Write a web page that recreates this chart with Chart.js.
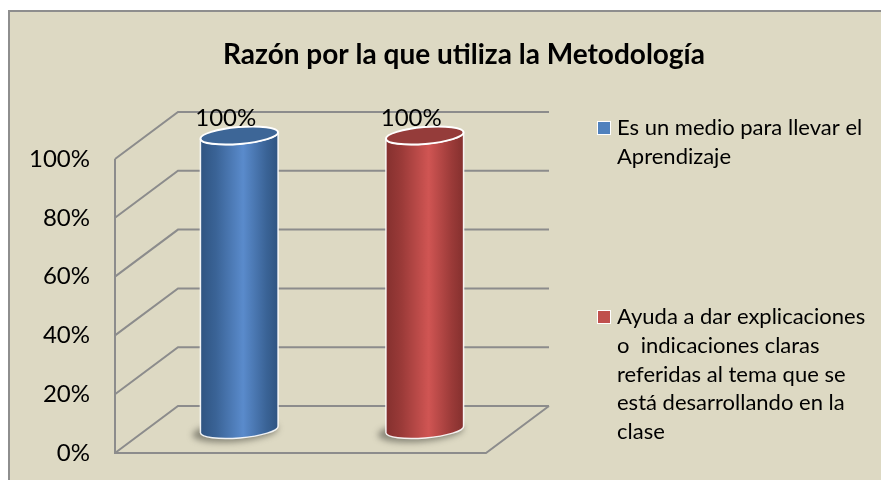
<!DOCTYPE html>
<html>
<head>
<meta charset="utf-8">
<script src="https://cdn.jsdelivr.net/npm/chart.js@4.4.0/dist/chart.umd.min.js"></script>
<style>
html, body { margin: 0; padding: 0; background: #fff; overflow: hidden; }
#box { position: absolute; left: 8px; top: 10px; border-left: 2px solid #8e8e8e; border-top: 2px solid #8e8e8e; background: #ddd9c3; }
#box canvas { display: block; }
</style>
</head>
<body>
<div id="box"><canvas id="chart" width="871" height="468"></canvas></div>
<script>
"use strict";

// chart data
var titleText = "Razón por la que utiliza la Metodología";
var categories = [
	"Es un medio para llevar el Aprendizaje",
	"Ayuda a dar explicaciones o  indicaciones claras referidas al tema que se está desarrollando en la clase"
];
var legendLines = [
	["Es un medio para llevar el", "Aprendizaje"],
	["Ayuda a dar explicaciones", "o  indicaciones claras", "referidas al tema que se", "está desarrollando en la", "clase"]
];
var values = [100, 100];
var yMin = 0;
var yMax = 100;
var yStep = 20;

// looks
var fontName = "Lato, 'Open Sans', sans-serif";
var gridColor = "#8c8c8c";
var depth = { dx: 63, dy: 47 };
var palette = [
	{ key: "#4f81bd", dark: "#2f5481", mid: "#5a8bcc", edge: "#3a6396", top: "#3d6697" },
	{ key: "#c0504d", dark: "#84302e", mid: "#d05553", edge: "#9a3a38", top: "#953c3a" }
];

// one dataset per category so the legend lists the categories
var datasets = categories.map(function(c, i) {
	return {
		label : c,
		data : categories.map(function(_, j) { return j === i ? values[i] : null; }),
		backgroundColor : palette[i].key,
		grouped : false,
		categoryPercentage : 1,
		barPercentage : 0.42
	};
});

var wallsPlugin = {
	id : "walls",
	afterLayout : function(chart) {
		// let the tick labels use the space left of the axis box
		chart.scales.y.left = 0;
	},
	beforeDatasetsDraw : function(chart) {
		var ctx = chart.ctx, a = chart.chartArea, y = chart.scales.y;
		ctx.save();
		ctx.strokeStyle = gridColor;
		ctx.lineWidth = 2;
		ctx.beginPath();
		for (var v = yMin; v <= yMax; v += yStep) {
			var py = y.getPixelForValue(v);
			// left wall diagonal + back wall line
			ctx.moveTo(a.left, py);
			ctx.lineTo(a.left + depth.dx, py - depth.dy);
			ctx.lineTo(a.right + depth.dx, py - depth.dy);
		}
		// front left edge
		ctx.moveTo(a.left, y.getPixelForValue(yMax));
		ctx.lineTo(a.left, a.bottom);
		// floor front + right edge
		ctx.lineTo(a.right, a.bottom);
		ctx.lineTo(a.right + depth.dx, a.bottom - depth.dy);
		ctx.stroke();
		ctx.restore();
	}
};

function drawCylinder(ctx, el, col) {
	var cx = el.x + depth.dx / 2;
	var rx = el.width / 2;
	var ry = 8.5;
	var rot = -0.085;
	var top = el.y - depth.dy / 2;
	var bot = el.base - depth.dy / 2;
	var left = cx - rx, right = cx + rx;

	// soft shadow on the floor
	ctx.save();
	ctx.filter = "blur(3px)";
	ctx.fillStyle = "rgba(70,70,60,0.55)";
	ctx.beginPath();
	ctx.ellipse(cx - 4, bot + 2, rx + 4, ry + 2, rot, 0, Math.PI * 2);
	ctx.fill();
	ctx.restore();

	// body
	var g = ctx.createLinearGradient(left, 0, right, 0);
	g.addColorStop(0, col.dark);
	g.addColorStop(0.2, col.edge);
	g.addColorStop(0.55, col.mid);
	g.addColorStop(0.85, col.edge);
	g.addColorStop(1, col.dark);
	ctx.save();
	ctx.fillStyle = g;
	ctx.beginPath();
	ctx.ellipse(cx, top, rx, ry, rot, Math.PI, 0, true);
	ctx.ellipse(cx, bot, rx, ry, rot, 0, Math.PI, false);
	ctx.closePath();
	ctx.fill();
	ctx.strokeStyle = "rgba(255,255,255,0.9)";
	ctx.lineWidth = 1.5;
	ctx.stroke();

	// top cap
	ctx.fillStyle = col.top;
	ctx.beginPath();
	ctx.ellipse(cx, top, rx, ry, rot, 0, Math.PI * 2);
	ctx.fill();
	ctx.strokeStyle = "#ffffff";
	ctx.lineWidth = 2;
	ctx.stroke();
	ctx.restore();
}

var cylinderPlugin = {
	id : "cylinders",
	beforeDatasetDraw : function(chart, args) {
		var ctx = chart.ctx;
		args.meta.data.forEach(function(el, j) {
			var v = chart.data.datasets[args.index].data[j];
			if (v === null || v === undefined) return;
			drawCylinder(ctx, el, palette[args.index]);
		});
		return false;
	},
	afterDatasetsDraw : function(chart) {
		var ctx = chart.ctx;
		ctx.save();
		ctx.font = "24px " + fontName;
		ctx.fillStyle = "#000";
		ctx.textAlign = "center";
		ctx.textBaseline = "middle";
		chart.data.datasets.forEach(function(ds, i) {
			chart.getDatasetMeta(i).data.forEach(function(el, j) {
				if (ds.data[j] === null) return;
				ctx.fillText(ds.data[j] + "%", el.x + 18, el.y - depth.dy / 2 - 17);
			});
		});
		ctx.restore();
	}
};

var legendPlugin = {
	id : "sideLegend",
	afterDraw : function(chart) {
		var ctx = chart.ctx, a = chart.chartArea;
		var x0 = a.right + 112;
		var starts = [116, 305];
		var lh = 28.8;
		ctx.save();
		ctx.font = "22px " + fontName;
		ctx.textBaseline = "middle";
		ctx.textAlign = "left";
		legendLines.forEach(function(lines, i) {
			var yy = starts[i];
			ctx.fillStyle = "#ffffff";
			ctx.fillRect(x0 - 1, yy - 7, 14, 14);
			ctx.fillStyle = palette[i].key;
			ctx.fillRect(x0, yy - 6, 12, 12);
			ctx.fillStyle = "#000";
			lines.forEach(function(t, k) {
				ctx.fillText(t, x0 + 19, yy + k * lh);
			});
		});
		ctx.restore();
	}
};

var chart = new Chart(document.getElementById("chart"), {
	type : "bar",
	data : { labels : categories, datasets : datasets },
	options : {
		responsive : false,
		animation : false,
		devicePixelRatio : 1,
		layout : { padding : { left : 37, right : 0, top : 0, bottom : 27 } },
		plugins : {
			legend : { display : false },
			tooltip : { enabled : false },
			title : {
				display : true,
				text : titleText,
				color : "#000",
				font : { family : fontName, size : 28, weight : "bold" },
				padding : { top : 26, bottom : 87.4 }
			}
		},
		scales : {
			x : { display : false },
			y : {
				min : yMin,
				max : yMax,
				grid : { display : false, drawTicks : false },
				border : { display : false },
				ticks : {
					stepSize : yStep,
					padding : 25,
					color : "#000",
					font : { family : fontName, size : 24 },
					callback : function(v) { return v + "%"; }
				},
				afterFit : function(s) {
					s.width = 68;
					s.paddingTop = 0;
					s.paddingBottom = 0;
				}
			},
			side : {
				type : "linear",
				position : "right",
				grid : { display : false },
				border : { display : false },
				ticks : { display : false },
				afterFit : function(s) { s.width = 395; }
			}
		}
	},
	plugins : [wallsPlugin, cylinderPlugin, legendPlugin]
});
</script>
</body>
</html>
